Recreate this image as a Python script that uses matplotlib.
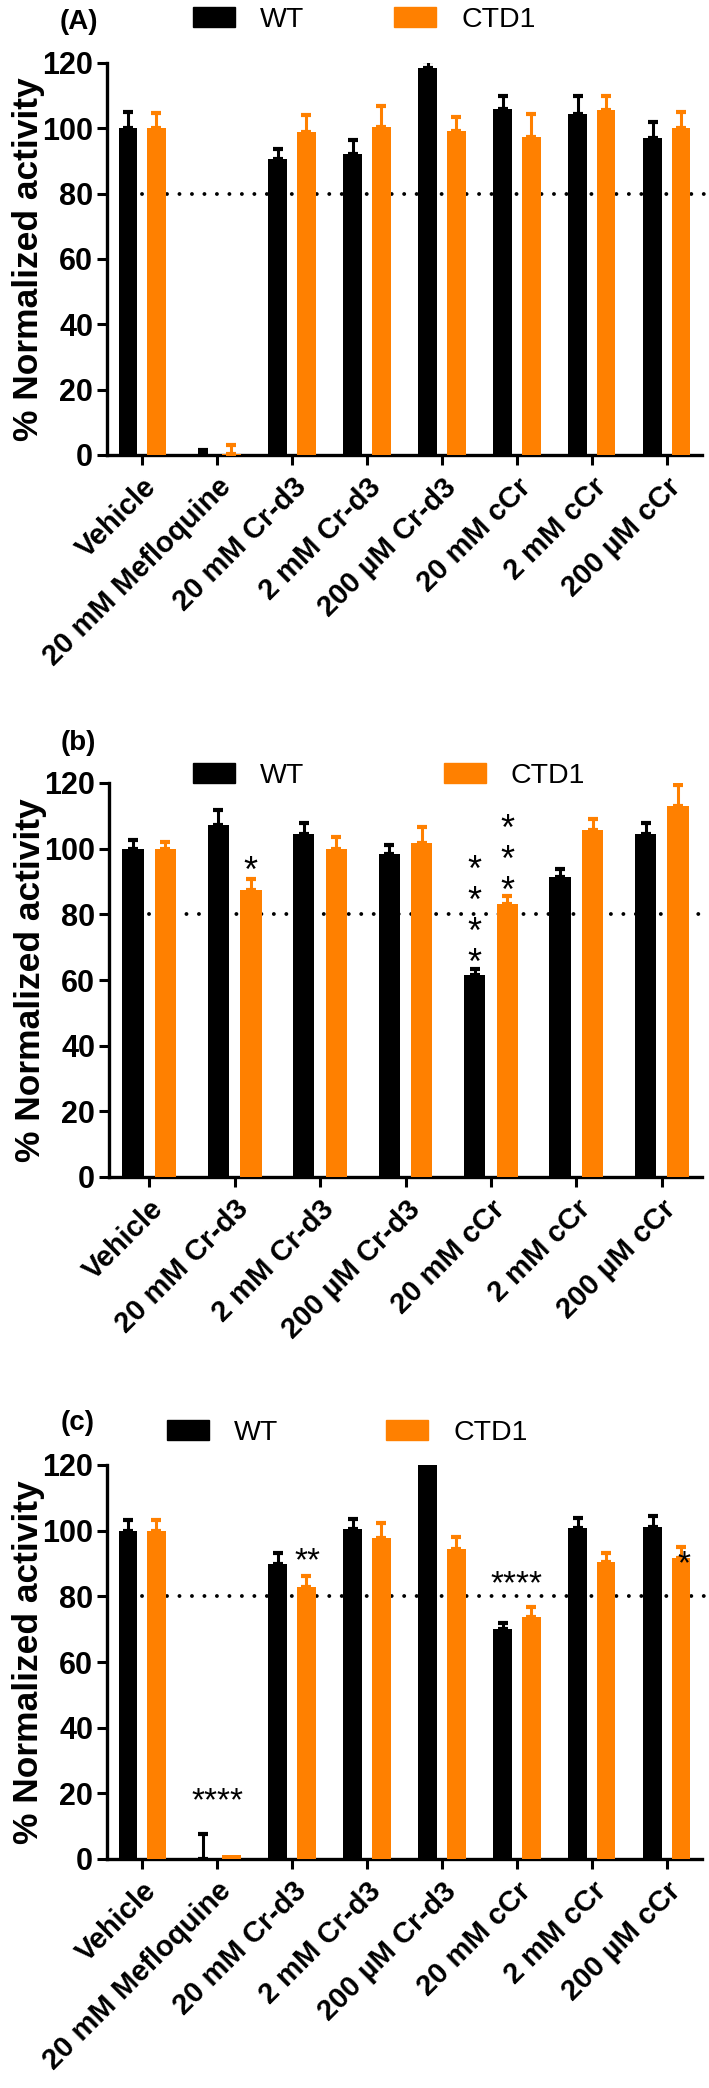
import matplotlib
matplotlib.use("Agg")
import matplotlib.pyplot as plt
from matplotlib import font_manager
from matplotlib.patches import Patch
from matplotlib.transforms import ScaledTranslation
import numpy as np

plt.rcParams['font.family'] = ['Liberation Sans', 'DejaVu Sans']

# condensed bold face for the numbers, if the narrow family is there
try:
    font_manager.findfont(font_manager.FontProperties(family='Liberation Sans Narrow', weight='bold'),
                          fallback_to_default=False)
    NUM_FONT, NUM_SIZE = ['Liberation Sans Narrow', 'Liberation Sans'], 26
except ValueError:
    NUM_FONT, NUM_SIZE = ['Liberation Sans', 'DejaVu Sans'], 22

WT_COLOR = 'black'
CTD1_COLOR = '#FF8000'

# ---- panel (A) ----
labels_a = ["Vehicle", "20 mM Mefloquine", "20 mM Cr-d3", "2 mM Cr-d3",
            "200 µM Cr-d3", "20 mM cCr", "2 mM cCr", "200 µM cCr"]
wt_a = [100, 0.3, 90.5, 92, 118.5, 106, 104.3, 97]
wt_a_err = [5, 1.2, 3.3, 4.3, 2, 4, 5.5, 4.8]
ctd1_a = [100, 0.3, 99, 100.3, 99.3, 97.5, 105.5, 100.2]
ctd1_a_err = [4.6, 2.9, 5, 6.5, 4.3, 7, 4.3, 4.7]

# ---- panel (b) ----
labels_b = ["Vehicle", "20 mM Cr-d3", "2 mM Cr-d3", "200 µM Cr-d3",
            "20 mM cCr", "2 mM cCr", "200 µM cCr"]
wt_b = [100, 107.3, 104.5, 98.4, 61.6, 91.4, 104.5]
wt_b_err = [2.6, 4.6, 3.3, 2.8, 1.8, 2.5, 3.3]
ctd1_b = [100, 87.5, 100, 101.7, 83.2, 105.8, 112.9]
ctd1_b_err = [2, 3.3, 3.6, 4.8, 2.3, 3.2, 6.4]
# (category, series, lowest star y, number of stars) - stars stacked vertically
stars_b = [(1, "CTD1", 95.7, 1), (4, "WT", 68.3, 4), (4, "CTD1", 89.9, 3)]
STAR_STEP = 9.1

# ---- panel (c) ----
labels_c = labels_a
wt_c = [100, 0, 89.9, 100.4, 121, 69.9, 100.7, 101.2]
wt_c_err = [3.4, 7.6, 3.4, 3.1, 0, 2.1, 3.3, 3.3]
ctd1_c = [100, 1.2, 82.9, 97.7, 94.4, 73.8, 90.4, 91.8]
ctd1_c_err = [3.1, 0, 3.3, 4.7, 3.8, 2.8, 2.7, 3.3]
# (x position in categories, y, text)
stars_c = [(1.0, 20.5, "****"), (2.2, 93.5, "**"), (5.0, 86.5, "****"), (7.23, 92.5, "*")]

W, H = 709, 2088
fig = plt.figure(figsize=(W / 100, H / 100), dpi=100)


def px_axes(left, top, right, bottom):
    return fig.add_axes([left / W, 1 - bottom / H, (right - left) / W, (bottom - top) / H])


OFFSETS = {"WT": -0.19, "CTD1": 0.19}
BAR_W = 0.25


def draw_panel(ax, labels, wt, wt_err, ctd1, ctd1_err):
    x = np.arange(len(labels))
    for name, vals, errs, col in [("WT", wt, wt_err, WT_COLOR), ("CTD1", ctd1, ctd1_err, CTD1_COLOR)]:
        xs = x + OFFSETS[name]
        ax.bar(xs, vals, BAR_W, color=col, zorder=3)
        keep = np.array(errs) > 0
        ax.errorbar(xs[keep], np.array(vals)[keep],
                    yerr=[np.zeros(keep.sum()), np.array(errs)[keep]],
                    fmt='none', ecolor=col, elinewidth=2.2, capsize=3.6, capthick=3, zorder=3)
    ax.plot([0, len(labels) - 0.4], [80, 80], color='black', lw=2.8,
            linestyle=(0, (0.01, 3.2)), dash_capstyle='round', zorder=1, clip_on=False)
    ax.set_xlim(-0.47, len(labels) - 0.53)
    ax.set_ylim(0, 120)
    ax.set_yticks(range(0, 121, 20))
    ax.set_xticks(x)
    ax.set_xticklabels(labels, rotation=45, ha='right', rotation_mode='anchor',
                       fontweight='bold', fontsize=21)
    shift = ScaledTranslation(6 / 100, -18 / 100, fig.dpi_scale_trans)
    for lab in ax.get_xticklabels():
        lab.set_transform(lab.get_transform() + shift)
    for lab in ax.get_yticklabels():
        lab.set_fontweight('bold')
        lab.set_fontsize(NUM_SIZE)
        lab.set_family(NUM_FONT)
    ax.tick_params(axis='both', length=7, width=2.2, direction='out')
    ax.tick_params(axis='y', pad=3)
    ax.tick_params(axis='x', pad=6)
    for s in ['top', 'right']:
        ax.spines[s].set_visible(False)
    for s in ['left', 'bottom']:
        ax.spines[s].set_linewidth(2.4)
    ax.spines['left'].set_bounds(0, 120)
    ax.set_ylabel('% Normalized activity', fontsize=25.5, fontweight='bold')
    ax.yaxis.set_label_coords(-0.104, 0.5)


def add_legend(ax, x_px, y_px, colspace):
    handles = [Patch(color=WT_COLOR), Patch(color=CTD1_COLOR)]
    ax.legend(handles, ['WT', 'CTD1'], loc='center left',
              bbox_to_anchor=(x_px / W, 1 - y_px / H), bbox_transform=fig.transFigure,
              ncol=2, frameon=False, fontsize=20.5, handlelength=1.47, handleheight=0.7,
              handletextpad=0.88, columnspacing=colspace, borderpad=0, borderaxespad=0)


def panel_tag(x_px, y_px, txt):
    fig.text(x_px / W, 1 - y_px / H, txt, fontsize=NUM_SIZE - 2, fontweight='bold',
             va='center', family=NUM_FONT)


# (A)
ax_a = px_axes(107, 63, 702, 455)
draw_panel(ax_a, labels_a, wt_a, wt_a_err, ctd1_a, ctd1_a_err)
add_legend(ax_a, 193, 20, 3.16)
panel_tag(60, 22, '(A)')

# (b)
ax_b = px_axes(109, 783, 702, 1177)
draw_panel(ax_b, labels_b, wt_b, wt_b_err, ctd1_b, ctd1_b_err)
add_legend(ax_b, 193, 776, 4.9)
panel_tag(61, 743, '(b)')
for cat, series, y0, n in stars_b:
    ax_b.text(cat + OFFSETS[series], y0 + STAR_STEP * (n - 1) / 2 - 3, '\n'.join('*' * n),
              fontsize=26, linespacing=0.85, ha='center', va='center', zorder=4)

# (c)
ax_c = px_axes(107, 1465, 702, 1859)
draw_panel(ax_c, labels_c, wt_c, wt_c_err, ctd1_c, ctd1_c_err)
add_legend(ax_c, 167, 1433, 3.8)
panel_tag(61, 1423, '(c)')
for xc, y, txt in stars_c:
    ax_c.text(xc, y - 3, txt, fontsize=24, ha='center', va='center', zorder=4)

fig.savefig('out.png', dpi=100)
